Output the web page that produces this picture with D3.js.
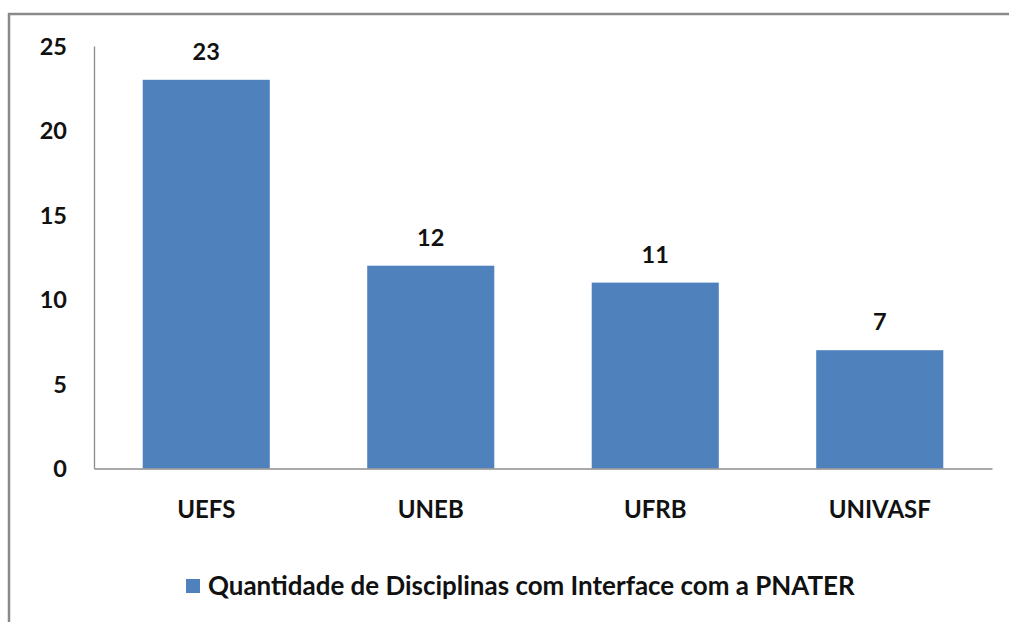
<!DOCTYPE html>
<html>
<head>
<meta charset="utf-8">
<script src="https://cdn.jsdelivr.net/npm/d3@7"></script>
<style>
  body { margin: 0; background: #fff; }
  svg text { font-family: Lato, "Open Sans", sans-serif; font-weight: 700; fill: #111; }
</style>
</head>
<body>
<div id="chart"></div>
<script>
// data
const categories = ['UEFS', 'UNEB', 'UFRB', 'UNIVASF']
const values = [23, 12, 11, 7]
const yTicks = [0, 5, 10, 15, 20, 25]
const seriesName = 'Quantidade de Disciplinas com Interface com a PNATER'

const svgWidth = 1009
const svgHeight = 622

const margin = { left: 94, right: 17, top: 46, bottom: 153.5 }
const width = svgWidth - margin.left - margin.right
const height = svgHeight - margin.top - margin.bottom

const svg = d3.select('#chart')
    .append('svg')
    .attr('width', svgWidth)
    .attr('height', svgHeight)

// outer frame (only top and left edges visible)
svg.append('path')
    .attr('d', 'M9,623 V14 H1010')
    .attr('fill', 'none')
    .attr('stroke', '#8a8a8a')
    .attr('stroke-width', 2.5)

const g = svg.append('g')
    .attr('transform', `translate(${margin.left},${margin.top})`)

// scales
const x = d3.scaleBand()
    .domain(categories)
    .range([0, width])
    .paddingInner(0.434)
    .paddingOuter(0.217)

const y = d3.scaleLinear()
    .domain([0, 25])
    .range([height, 0])

// y axis
const yAxis = g.append('g')
    .call(d3.axisLeft(y).tickValues(yTicks).tickSize(0).tickPadding(27))
yAxis.select('.domain').attr('stroke', '#8c8c8c').attr('stroke-width', 1.3)
yAxis.selectAll('text')
    .attr('font-size', 23.5)
    .attr('font-family', null)
    .attr('dy', '0.36em')

// bars
g.append('g')
    .selectAll('rect')
    .data(values)
    .join('rect')
    .attr('x', (d, i) => x(categories[i]))
    .attr('y', d => y(d))
    .attr('width', x.bandwidth())
    .attr('height', d => height - y(d))
    .attr('fill', '#4f81bd')

// x axis
const xAxis = g.append('g')
    .attr('transform', `translate(0,${height})`)
    .call(d3.axisBottom(x).tickSize(0).tickPadding(32))
xAxis.select('.domain').attr('stroke', '#8c8c8c').attr('stroke-width', 1.3)
xAxis.selectAll('text')
    .attr('font-size', 24)
    .attr('font-family', null)

// value labels
g.append('g')
    .selectAll('text')
    .data(values)
    .join('text')
    .attr('x', (d, i) => x(categories[i]) + x.bandwidth() / 2)
    .attr('y', d => y(d) - 20)
    .attr('text-anchor', 'middle')
    .attr('font-size', 23.5)
    .text(d => d)

// legend
svg.append('rect')
    .attr('x', 186)
    .attr('y', 579)
    .attr('width', 14)
    .attr('height', 14)
    .attr('fill', '#4f81bd')

const legendText = svg.append('text')
    .attr('x', 208)
    .attr('y', 595)
    .attr('font-size', 22)
    .text(seriesName)

// fit legend to the reference width
const w = legendText.node().getComputedTextLength()
legendText.attr('font-size', 22 * 647 / w)
</script>
</body>
</html>
